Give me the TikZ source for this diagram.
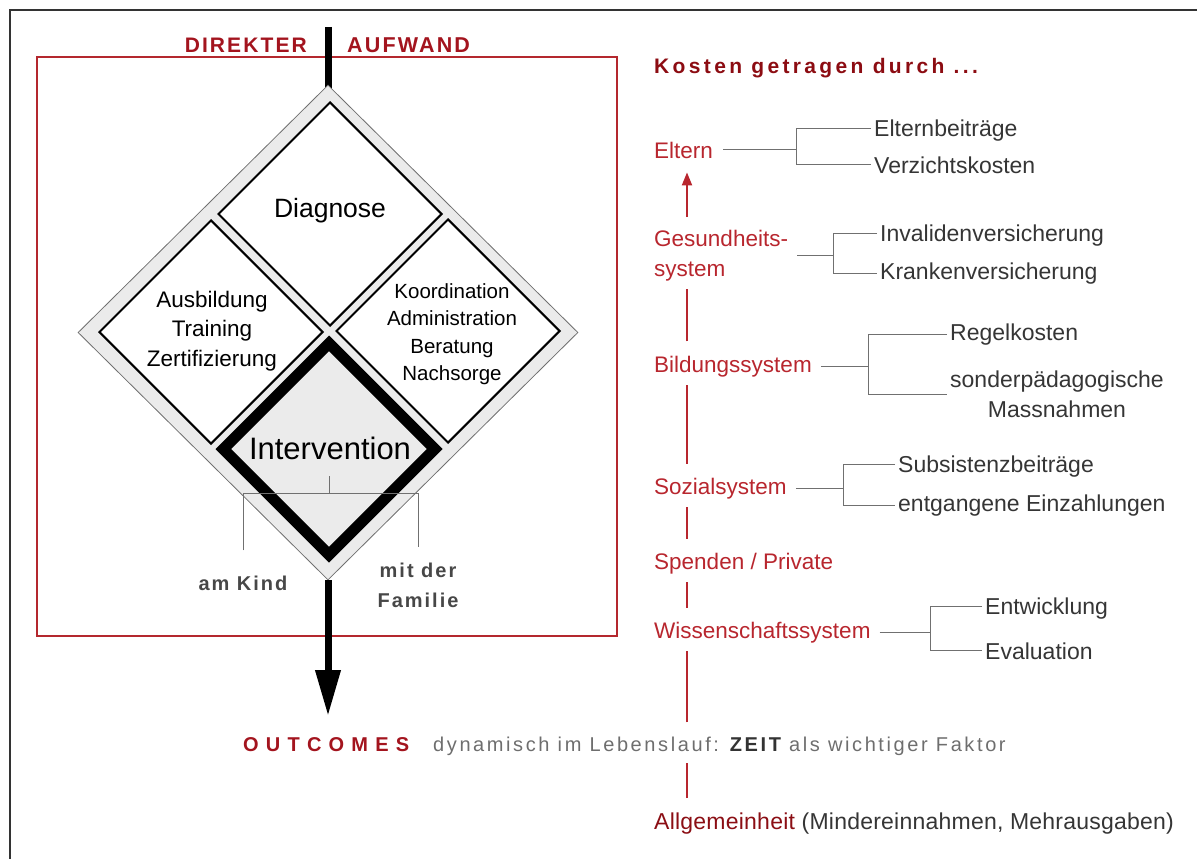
\documentclass[tikz,border=0pt]{standalone}
\usepackage{fontspec}
\setmainfont{Liberation Sans}
\newfontfamily\lsten[LetterSpace=10]{Liberation Sans}
\newfontfamily\lsfift[LetterSpace=16]{Liberation Sans}
\newfontfamily\lsthirty[LetterSpace=36]{Liberation Sans}
\newfontfamily\lstwelve[LetterSpace=13]{Liberation Sans}
\newfontfamily\lstwo[LetterSpace=1]{Liberation Sans}
\usetikzlibrary{shapes.geometric,arrows.meta,calc}
\newcommand\fsz[2]{\fontsize{#1}{#2}\selectfont}
\definecolor{darkredA}{HTML}{A3141E}
\definecolor{kostred}{HTML}{8C0C12}
\definecolor{labred}{HTML}{B8262E}
\definecolor{allgred}{HTML}{8B0E14}
\definecolor{boxred}{HTML}{B4282E}
\definecolor{txtgray}{HTML}{353535}
\definecolor{dyngray}{HTML}{6E6E6E}
\definecolor{lightfill}{HTML}{EBEBEB}
\definecolor{framegray}{HTML}{333333}
\definecolor{brkgray}{HTML}{707070}
\begin{document}
\begin{tikzpicture}[x=1pt,y=-1pt,
  redlab/.style={text=labred, font=\fsz{22.5}{30}, inner sep=0, anchor=base west},
  sublab/.style={text=txtgray, font=\fsz{23}{30}, inner sep=0, anchor=base west},
  brk/.style={draw=brkgray, line width=1},
  redseg/.style={draw=labred, line width=2, shorten <=14, shorten >=8},
  outerd/.style={diamond, draw=brkgray, fill=lightfill, line width=0.8, inner sep=0, minimum width=500, minimum height=495},
  subd/.style={diamond, draw=black, fill=white, line width=2, inner sep=0, minimum width=224, minimum height=224},
  intd/.style={diamond, draw=black, fill=lightfill, line width=11, inner sep=0, minimum width=216, minimum height=216},
  dtext/.style={align=center, inner sep=0, text=black},
  famlab/.style={text=framegray!90, font=\fsz{20}{30}\lsten\bfseries, inner sep=0, align=center}
]
\useasboundingbox (0,0) rectangle (1197,859);
% frame
\draw[line width=1.5, draw=framegray] (10,859) -- (10,10) -- (1197,10);
% red box
\draw[draw=boxred, line width=1.2] (37,57) rectangle (617,636);
% headings
\node[anchor=base east, inner sep=0, text=darkredA, font=\fsz{21}{24}\lsten\bfseries] (direkt) at (307,53) {DIREKTER};
\node[anchor=base west, inner sep=0, text=darkredA, font=\fsz{21.5}{24}\lsten\bfseries] (aufw) at (347,53) {AUFWAND};
% main arrow
\coordinate (atop) at (328,27);
\coordinate (dtop) at (328,100);
\coordinate (abot) at (328,716);
\draw[line width=7] (atop) -- (dtop);
\node[outerd] (outer) at (328,332.5) {};
\draw[line width=7, -{Triangle[width=24,length=46]}] (outer.south) -- (abot);
% sub diamonds
\node[subd] (dg) at (330,214) {};
\node[subd] (ab) at (211,332) {};
\node[subd] (ko) at (448,331) {};
\node[intd] (iv) at (329,449) {};
\node[dtext, font=\fsz{26.5}{30}] (tdg) at (330,211) {Diagnose};
\node[dtext, font=\fsz{22.5}{29.5}] (tab) at (212,331) {Ausbildung\\Training\\Zertifizierung};
\node[dtext, font=\fsz{20.5}{27.5}] (tko) at (452,334) {Koordination\\Administration\\Beratung\\Nachsorge};
\node[dtext, font=\fsz{31}{34}] (tiv) at (330,448) {Intervention};
% bracket under intervention
\node[famlab, anchor=base] (kind) at (243,590) {am Kind};
\node[famlab] (fam) at (418,585) {mit der\\Familie};
\coordinate (bT) at (329,476);
\coordinate (bL) at (243,493);
\coordinate (bR) at (418,493);
\draw[brk] (bT) -- (bT |- bL);
\draw[brk] ($(kind.north)+(0,-25)$) -- (bL) -- (bR) -- ($(fam.north)+(0,-15)$);
% outcomes line
\node[anchor=base west, inner sep=0, text=darkredA, font=\fsz{20}{24}\lsthirty\bfseries] (outc) at (243,751) {OUTCOMES};
\node[anchor=base west, inner sep=0, text=dyngray, font=\fsz{20}{24}\lstwelve] (dyn) at (433,751) {dynamisch im Lebenslauf: {\color{framegray}\bfseries ZEIT} als wichtiger Faktor};
% right side
\node[anchor=base west, inner sep=0, text=kostred, font=\fsz{21}{24}\lsfift\bfseries] (kosten) at (654,74) {Kosten getragen durch ...};
\node[redlab] (eltern) at (654,158) {Eltern};
\node[redlab, anchor=north west, align=left] (gsys) at (654,230) {Gesundheits-\\system};
\node[redlab] (bild) at (654,372) {Bildungssystem};
\node[redlab] (soz) at (654,494) {Sozialsystem};
\node[redlab] (spend) at (654,569) {Spenden / Private};
\node[redlab] (wiss) at (654,638) {Wissenschaftssystem};
\node[anchor=base west, inner sep=0, font=\fsz{23}{30}\lstwo, text=txtgray] (allg) at (654,829) {{\color{allgred}Allgemeinheit} (Mindereinnahmen, Mehrausgaben)};
% sub labels
\node[sublab] (elb) at (874,136) {Elternbeiträge};
\node[sublab] (verz) at (874,173) {Verzichtskosten};
\node[sublab] (inv) at (880,241) {Invalidenversicherung};
\node[sublab] (krank) at (880,279) {Krankenversicherung};
\node[sublab] (regel) at (950,340) {Regelkosten};
\node[sublab, anchor=west, align=center] (sond) at (950,394) {sonderpädagogische\\Massnahmen};
\node[sublab] (subs) at (898,472) {Subsistenzbeiträge};
\node[sublab] (entg) at (898,511) {entgangene Einzahlungen};
\node[sublab] (entw) at (985,614) {Entwicklung};
\node[sublab] (eval) at (985,659) {Evaluation};
% bracket connectors
\coordinate (bx1) at (796,0);
\coordinate (bx2) at (833,0);
\coordinate (bx3) at (868,0);
\coordinate (bx4) at (843,0);
\coordinate (bx5) at (930,0);
\draw[brk] ($(eltern.east)+(10,0)$) -- (eltern.east -| bx1);
\draw[brk] ($(elb.west)+(-3,-2)$) -| (bx1 |- verz.west) -- ($(verz.west)+(-3,0)$);
\draw[brk] ($(gsys.east)+(9,0)$) -- (gsys.east -| bx2);
\draw[brk] ($(inv.west)+(-3,-2)$) -| (bx2 |- krank.west) -- ($(krank.west)+(-3,0)$);
\draw[brk] ($(bild.east)+(9,0)$) -- (bild.east -| bx3);
\draw[brk] ($(regel.west)+(-3,0)$) -| (bx3 |- sond.west) -- ($(sond.west)+(-3,0)$);
\draw[brk] ($(soz.east)+(9,0)$) -- (soz.east -| bx4);
\draw[brk] ($(subs.west)+(-3,-2)$) -| (bx4 |- entg.west) -- ($(entg.west)+(-3,0)$);
\draw[brk] ($(wiss.east)+(9,0)$) -- (wiss.east -| bx5);
\draw[brk] ($(entw.west)+(-3,-2)$) -| (bx5 |- eval.west) -- ($(eval.west)+(-3,0)$);
% red vertical line
\coordinate (rx) at (687,0);
\draw[redseg, shorten <=13, shorten >=14, -{Triangle[width=10,length=13]}] (gsys.north -| rx) -- (eltern.south -| rx);
\draw[redseg] (bild.north -| rx) -- (gsys.south -| rx);
\draw[redseg] (soz.north -| rx) -- (bild.south -| rx);
\draw[redseg] (spend.north -| rx) -- (soz.south -| rx);
\draw[redseg] (wiss.north -| rx) -- (spend.south -| rx);
\draw[redseg] (dyn.north -| rx) -- (wiss.south -| rx);
\draw[redseg] (allg.north -| rx) -- (dyn.south -| rx);
\end{tikzpicture}
\end{document}
